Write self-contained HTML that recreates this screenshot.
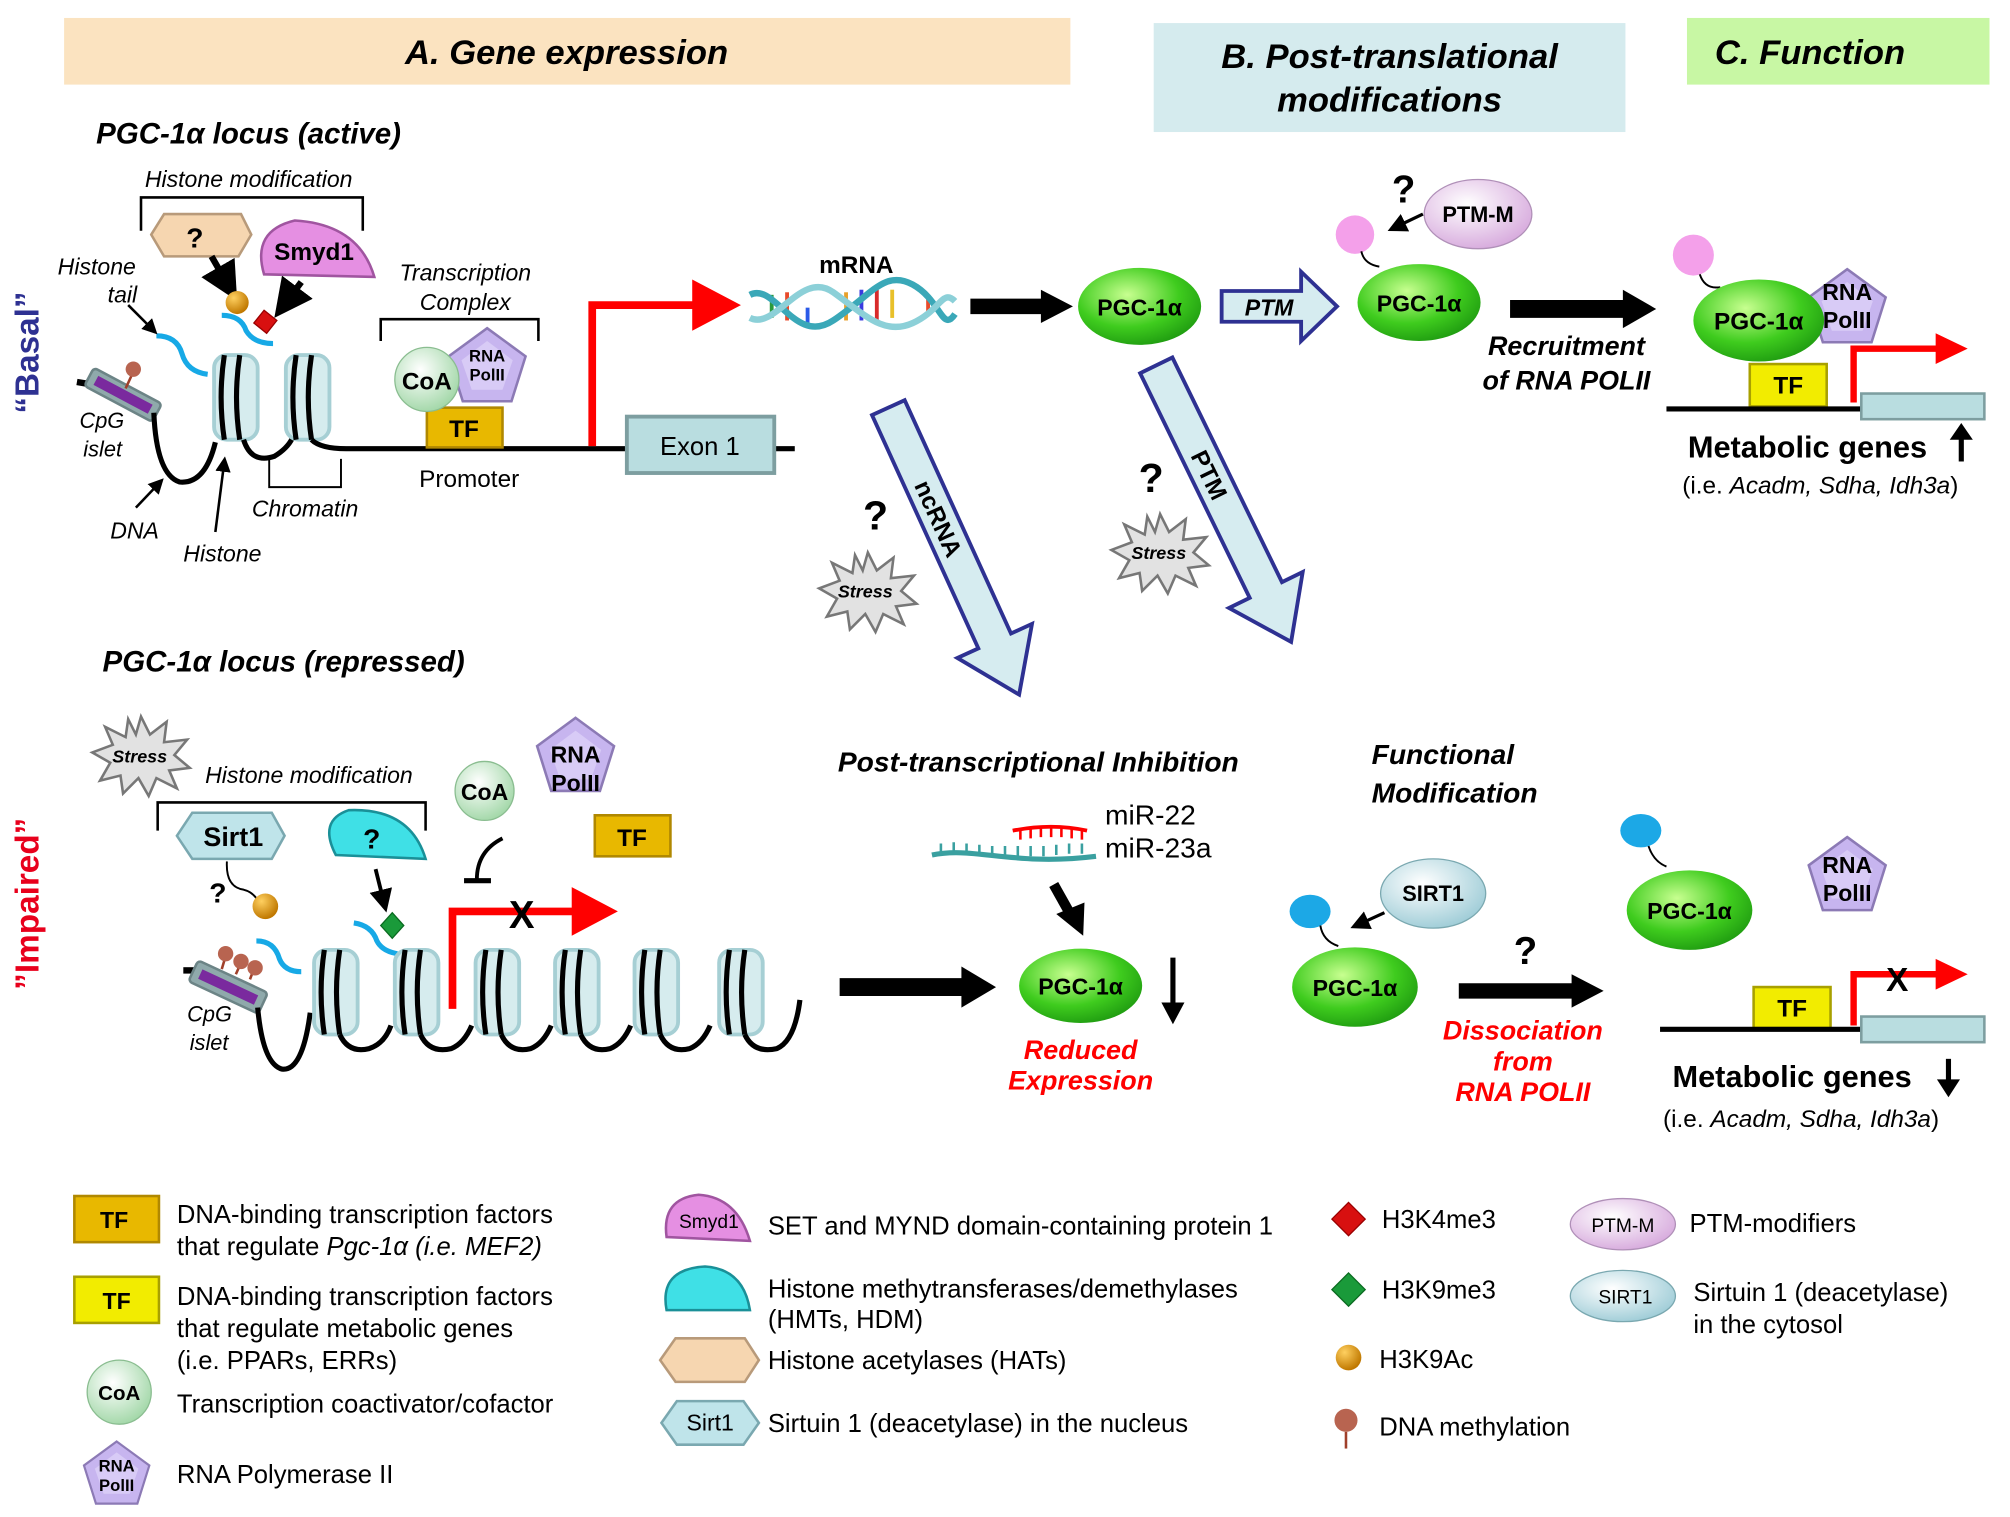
<!DOCTYPE html>
<html><head><meta charset="utf-8"><style>
html,body{margin:0;padding:0;background:#fff}
svg{display:block}
text{font-family:"Liberation Sans",Arial,sans-serif}
.bi{font-weight:bold;font-style:italic}
.b{font-weight:bold}
.i{font-style:italic}
</style></head><body>
<svg width="2010" height="1517" viewBox="0 0 1568 1183.4" preserveAspectRatio="none" xmlns="http://www.w3.org/2000/svg">
<defs>
<radialGradient id="gG" cx="40%" cy="35%" r="70%"><stop offset="0" stop-color="#c8ff90"/><stop offset="0.6" stop-color="#3fcc1e"/><stop offset="1" stop-color="#1e9a10"/></radialGradient>
<radialGradient id="gCoA" cx="40%" cy="35%" r="70%"><stop offset="0" stop-color="#ffffff"/><stop offset="1" stop-color="#9fd6a5"/></radialGradient>
<radialGradient id="gPk" cx="40%" cy="35%" r="70%"><stop offset="0" stop-color="#fff"/><stop offset="1" stop-color="#d6a8dc"/></radialGradient>
<radialGradient id="gSi" cx="40%" cy="35%" r="70%"><stop offset="0" stop-color="#fff"/><stop offset="1" stop-color="#9ccbd6"/></radialGradient>
<radialGradient id="gOr" cx="35%" cy="30%" r="70%"><stop offset="0" stop-color="#ffd060"/><stop offset="1" stop-color="#c07800"/></radialGradient>
<g id="pent"><polygon points="0,-30 30,-8 19,27 -19,27 -30,-8" fill="#c7b5ef" stroke="#8c7ab5" stroke-width="2"/><polygon points="0,-20 20,-5 12,18 -12,18 -20,-5" fill="#d8cbf6"/></g>
<g id="nuc"><rect x="-17" y="-33" width="34" height="66" rx="10" fill="#d6ecee" stroke="#a6cfd4" stroke-width="3"/><path d="M-9,-33 Q-14,0 -9,33 M3,-33 Q-2,0 3,33" stroke="#000" stroke-width="4" fill="none"/></g>
<g id="stress"><polygon points="0,-30 7,-16 20,-26 18,-10 36,-12 26,0 38,10 22,12 28,26 12,18 6,32 -2,18 -14,30 -16,16 -32,20 -24,6 -38,-2 -22,-8 -28,-22 -12,-14 -10,-28 -4,-16" fill="#e2e2e2" stroke="#777" stroke-width="2"/></g>
<marker id="ah" markerWidth="6" markerHeight="6" refX="4" refY="3" orient="auto"><path d="M0,0 L6,3 L0,6z" fill="#000"/></marker>
</defs>

<!-- headers -->
<rect x="50" y="14" width="785" height="52" fill="#fbe3c0"/>
<text x="442" y="50" font-size="27" class="bi" text-anchor="middle">A. Gene expression</text>
<rect x="900" y="18" width="368" height="85" fill="#d5ebee"/>
<text x="1084" y="53" font-size="27" class="bi" text-anchor="middle">B. Post-translational</text>
<text x="1084" y="87" font-size="27" class="bi" text-anchor="middle">modifications</text>
<rect x="1316" y="14" width="236" height="52" fill="#c8f7a4"/>
<text x="1412" y="50" font-size="27" class="bi" text-anchor="middle">C. Function</text>

<text transform="translate(30,275) rotate(-90)" font-size="26" class="b" fill="#2e3192" text-anchor="middle">“Basal”</text>
<text transform="translate(30,705) rotate(-90)" font-size="26" class="b" fill="#e8001c" text-anchor="middle">”Impaired”</text>

<!-- TOP locus -->
<text x="75" y="112" font-size="23" class="bi">PGC-1α locus (active)</text>
<text x="113" y="146" font-size="18" class="i">Histone modification</text>
<path d="M110,180 V154 H283 V180" stroke="#000" stroke-width="2" fill="none"/>
<polygon points="118,183 128,167 188,167 196,183 186,200 128,200" fill="#f6d6b0" stroke="#b89a7a" stroke-width="2"/>
<text x="152" y="193" font-size="22" class="b" text-anchor="middle">?</text>
<path d="M206,214 Q196,180 230,172 Q280,175 292,216 Z" fill="#e58fe2" stroke="#a055a0" stroke-width="2"/>
<text x="245" y="203" font-size="19" class="b" text-anchor="middle">Smyd1</text>
<path d="M165,200 L180,226" stroke="#000" stroke-width="5" marker-end="url(#ah)"/>
<path d="M235,220 L220,240" stroke="#000" stroke-width="5" marker-end="url(#ah)"/>
<circle cx="185" cy="236" r="9" fill="url(#gOr)"/>
<polygon points="206,242 216,250 208,260 198,252" fill="#d81010" stroke="#900" stroke-width="1"/>
<path d="M173,246 Q188,246 192,258 Q198,268 213,268" stroke="#17a9e6" stroke-width="4" fill="none"/>
<path d="M122,262 Q138,262 142,276 Q146,290 162,292" stroke="#17a9e6" stroke-width="4" fill="none"/>
<text x="45" y="214" font-size="18" class="i">Histone</text>
<text x="84" y="236" font-size="18" class="i">tail</text>
<path d="M100,238 L120,258" stroke="#000" stroke-width="2" marker-end="url(#ah)"/>
<!-- CpG -->
<path d="M60,298 L72,300" stroke="#000" stroke-width="5"/>
<g transform="translate(96,308) rotate(28)"><rect x="-30" y="-8" width="60" height="16" rx="3" fill="#8fa9ab" stroke="#6c8486" stroke-width="2"/><rect x="-24" y="-4" width="48" height="8" fill="#7a2a9e"/></g>
<path d="M98,303 L104,290" stroke="#a0402a" stroke-width="2"/><circle cx="104" cy="288" r="6" fill="#b86450"/>
<text x="62" y="334" font-size="17" class="i">CpG</text>
<text x="65" y="356" font-size="17" class="i">islet</text>
<path d="M120,322 Q122,370 140,376 Q160,378 168,345" stroke="#000" stroke-width="4" fill="none"/>
<use href="#nuc" x="184" y="310"/>
<path d="M190,343 Q196,362 214,356 Q224,350 228,342" stroke="#000" stroke-width="4" fill="none"/>
<use href="#nuc" x="240" y="310"/>
<path d="M243,343 Q250,350 270,350 H620" stroke="#000" stroke-width="4" fill="none"/>
<path d="M210,358 V380 H266 V358" stroke="#000" stroke-width="1.5" fill="none"/>
<text x="238" y="403" font-size="18" class="i" text-anchor="middle">Chromatin</text>
<text x="86" y="420" font-size="18" class="i">DNA</text>
<path d="M106,396 L125,376" stroke="#000" stroke-width="2" marker-end="url(#ah)"/>
<text x="143" y="438" font-size="18" class="i">Histone</text>
<path d="M168,415 L175,360" stroke="#000" stroke-width="2" marker-end="url(#ah)"/>
<text x="363" y="219" font-size="18" class="i" text-anchor="middle">Transcription</text>
<text x="363" y="242" font-size="18" class="i" text-anchor="middle">Complex</text>
<path d="M297,266 V249 H420 V266" stroke="#000" stroke-width="2" fill="none"/>
<rect x="333" y="318" width="59" height="31" fill="#e8b800" stroke="#b08800" stroke-width="2"/>
<text x="362" y="341" font-size="19" class="b" text-anchor="middle">TF</text>
<use href="#pent" x="380" y="286"/>
<text x="380" y="282" font-size="13" class="b" text-anchor="middle">RNA</text>
<text x="380" y="297" font-size="13" class="b" text-anchor="middle">PolII</text>
<circle cx="333" cy="296" r="25" fill="url(#gCoA)" stroke="#8abd90" stroke-width="1"/>
<text x="333" y="304" font-size="19" class="b" text-anchor="middle">CoA</text>
<text x="366" y="380" font-size="19" text-anchor="middle">Promoter</text>
<rect x="489" y="325" width="115" height="44" fill="#b9dde0" stroke="#7d9ea0" stroke-width="3"/>
<text x="546" y="355" font-size="20" text-anchor="middle">Exon 1</text>
<path d="M462,348 V238 H545" stroke="#f00" stroke-width="6" fill="none"/>
<polygon points="540,218 578,238 540,258" fill="#f00"/>

<!-- mRNA -->
<text x="668" y="213" font-size="19" class="b" text-anchor="middle">mRNA</text>
<g stroke-width="3">
<line x1="602" y1="230" x2="602" y2="248" stroke="#2a9a3a"/><line x1="614" y1="228" x2="614" y2="250" stroke="#e84a2a"/><line x1="630" y1="240" x2="630" y2="254" stroke="#2a5ae8"/>
<line x1="660" y1="228" x2="660" y2="250" stroke="#e8a02a"/><line x1="672" y1="226" x2="672" y2="250" stroke="#3a3ae0"/><line x1="684" y1="226" x2="684" y2="250" stroke="#d82a2a"/><line x1="696" y1="226" x2="696" y2="248" stroke="#e8c02a"/><line x1="724" y1="232" x2="724" y2="246" stroke="#e84a2a"/>
</g>
<path d="M585,230 C605,220 620,270 650,250 S690,210 712,222 S735,260 745,245" stroke="#3aa8b8" stroke-width="5" fill="none"/>
<path d="M585,248 C605,258 625,210 650,228 S690,262 712,252 S735,225 745,235" stroke="#8cd0d8" stroke-width="5" fill="none"/>

<!-- arrows top row -->
<path d="M757,239 H815" stroke="#000" stroke-width="12"/><polygon points="812,226 837,239 812,252" fill="#000"/>
<ellipse cx="889" cy="239" rx="48" ry="30" fill="url(#gG)"/>
<text x="889" y="246" font-size="18" class="b" text-anchor="middle">PGC-1α</text>
<polygon points="953,227 1015,227 1015,212 1043,239 1015,266 1015,251 953,251" fill="#d6ecf0" stroke="#2e3192" stroke-width="3"/>
<text x="990" y="246" font-size="18" class="bi" text-anchor="middle">PTM</text>
<ellipse cx="1107" cy="236" rx="48" ry="30" fill="url(#gG)"/>
<text x="1107" y="243" font-size="18" class="b" text-anchor="middle">PGC-1α</text>
<circle cx="1057" cy="183" r="15" fill="#f4a0ea"/>
<path d="M1062,196 Q1064,206 1076,208" stroke="#000" stroke-width="1.5" fill="none"/>
<ellipse cx="1153" cy="167" rx="42" ry="27" fill="url(#gPk)" stroke="#b090b8"/>
<text x="1153" y="173" font-size="17" class="b" text-anchor="middle">PTM-M</text>
<text x="1095" y="158" font-size="30" class="b" text-anchor="middle">?</text>
<path d="M1110,167 L1087,178" stroke="#000" stroke-width="2.5" marker-end="url(#ah)"/>
<path d="M1178,241 H1270" stroke="#000" stroke-width="14"/><polygon points="1266,226 1292,241 1266,256" fill="#000"/>
<text x="1222" y="277" font-size="21" class="bi" text-anchor="middle">Recruitment</text>
<text x="1222" y="304" font-size="21" class="bi" text-anchor="middle">of RNA POLII</text>

<!-- function top -->
<circle cx="1321" cy="199" r="16" fill="#f4a0ea"/>
<path d="M1326,214 Q1330,226 1342,224" stroke="#000" stroke-width="1.5" fill="none"/>
<use href="#pent" x="1441" y="240"/>
<text x="1441" y="234" font-size="18" class="b" text-anchor="middle">RNA</text>
<text x="1441" y="256" font-size="18" class="b" text-anchor="middle">PolII</text>
<ellipse cx="1372" cy="250" rx="51" ry="32" fill="url(#gG)"/>
<text x="1372" y="257" font-size="19" class="b" text-anchor="middle">PGC-1α</text>
<rect x="1365" y="284" width="60" height="33" fill="#f2ec00" stroke="#a8a000" stroke-width="2"/>
<text x="1395" y="307" font-size="19" class="b" text-anchor="middle">TF</text>
<path d="M1300,319 H1455" stroke="#000" stroke-width="4"/>
<rect x="1452" y="307" width="96" height="20" fill="#b9dde0" stroke="#7d9ea0" stroke-width="2"/>
<path d="M1446,314 V272 H1515" stroke="#f00" stroke-width="5" fill="none"/>
<polygon points="1510,260 1535,272 1510,284" fill="#f00"/>
<text x="1410" y="357" font-size="24" class="b" text-anchor="middle">Metabolic genes</text>
<path d="M1530,360 V340" stroke="#000" stroke-width="4"/><polygon points="1521,343 1530,330 1539,343" fill="#000"/>
<text x="1420" y="385" font-size="19" text-anchor="middle">(i.e. <tspan class="i">Acadm, Sdha, Idh3a</tspan>)</text>

<!-- diagonal arrows -->
<g transform="translate(693,318) rotate(65.5)">
<polygon points="0,-14 200,-14 200,-32 246,0 200,32 200,14 0,14" fill="#d6ecf0" stroke="#2e3192" stroke-width="3"/>
<text x="95" y="7" font-size="19" class="b" text-anchor="middle">ncRNA</text>
</g>
<g transform="translate(902,285) rotate(64)">
<polygon points="0,-14 195,-14 195,-32 240,0 195,32 195,14 0,14" fill="#d6ecf0" stroke="#2e3192" stroke-width="3"/>
<text x="95" y="7" font-size="19" class="b" text-anchor="middle">PTM</text>
</g>
<text x="683" y="413" font-size="32" class="b" text-anchor="middle">?</text>
<use href="#stress" x="677" y="461"/>
<text x="675" y="466" font-size="14" class="bi" text-anchor="middle">Stress</text>
<text x="898" y="384" font-size="32" class="b" text-anchor="middle">?</text>
<use href="#stress" x="905" y="431"/>
<text x="904" y="436" font-size="14" class="bi" text-anchor="middle">Stress</text>

<!-- BOTTOM locus -->
<text x="80" y="524" font-size="23" class="bi">PGC-1α locus (repressed)</text>
<use href="#stress" x="110" y="589"/>
<text x="109" y="595" font-size="14" class="bi" text-anchor="middle">Stress</text>
<text x="160" y="611" font-size="18" class="i">Histone modification</text>
<path d="M123,648 V626 H332 V648" stroke="#000" stroke-width="2" fill="none"/>
<polygon points="138,652 150,634 212,634 222,652 212,670 150,670" fill="#bfe4ea" stroke="#7aa8b0" stroke-width="2"/>
<text x="182" y="660" font-size="21" class="b" text-anchor="middle">Sirt1</text>
<path d="M262,667 Q248,640 272,632 Q320,630 332,670 Z" fill="#3fe0e6" stroke="#1a9098" stroke-width="2"/>
<text x="290" y="662" font-size="22" class="b" text-anchor="middle">?</text>
<text x="170" y="704" font-size="22" class="b" text-anchor="middle">?</text>
<path d="M177,672 Q176,692 190,694 Q198,696 202,704" stroke="#000" stroke-width="1.5" fill="none"/>
<circle cx="207" cy="707" r="10" fill="url(#gOr)"/>
<path d="M293,678 L300,706" stroke="#000" stroke-width="3" marker-end="url(#ah)"/>
<polygon points="306,712 315,722 306,732 297,722" fill="#1a9a3a" stroke="#0a6a20"/>
<path d="M276,720 Q290,722 294,734 Q298,742 310,744" stroke="#17a9e6" stroke-width="4" fill="none"/>
<path d="M200,734 Q214,734 218,748 Q222,758 235,758" stroke="#17a9e6" stroke-width="4" fill="none"/>
<circle cx="378" cy="617" r="23" fill="url(#gCoA)" stroke="#8abd90"/>
<text x="378" y="624" font-size="18" class="b" text-anchor="middle">CoA</text>
<path d="M392,654 Q372,664 372,686" stroke="#000" stroke-width="3" fill="none"/>
<path d="M362,687 H383" stroke="#000" stroke-width="4"/>
<use href="#pent" x="449" y="590"/>
<text x="449" y="595" font-size="18" class="b" text-anchor="middle">RNA</text>
<text x="449" y="617" font-size="18" class="b" text-anchor="middle">PolII</text>
<rect x="464" y="636" width="59" height="32" fill="#e8b800" stroke="#b08800" stroke-width="2"/>
<text x="493" y="660" font-size="19" class="b" text-anchor="middle">TF</text>
<!-- CpG bottom -->
<path d="M143,757 L155,757" stroke="#000" stroke-width="5"/>
<g transform="translate(178,770) rotate(25)"><rect x="-30" y="-9" width="60" height="18" rx="3" fill="#8fa9ab" stroke="#6c8486" stroke-width="2"/><rect x="-24" y="-4" width="48" height="8" fill="#7a2a9e"/></g>
<path d="M173,756 L176,746 M184,760 L188,751 M195,764 L198,756" stroke="#a0402a" stroke-width="2"/>
<circle cx="176" cy="744" r="6" fill="#b86450"/><circle cx="188" cy="750" r="6" fill="#b86450"/><circle cx="199" cy="755" r="6" fill="#b86450"/>
<text x="146" y="797" font-size="17" class="i">CpG</text>
<text x="148" y="819" font-size="17" class="i">islet</text>
<path d="M201,786 Q205,830 220,834 Q236,836 242,790" stroke="#000" stroke-width="4" fill="none"/>
<use href="#nuc" x="262" y="774"/>
<path d="M265,807 Q272,822 288,818 Q300,814 305,800" stroke="#000" stroke-width="4" fill="none"/>
<use href="#nuc" x="325" y="774"/>
<path d="M328,807 Q335,822 352,818 Q362,814 368,800" stroke="#000" stroke-width="4" fill="none"/>
<use href="#nuc" x="388" y="774"/>
<path d="M391,807 Q398,822 414,818 Q424,814 430,800" stroke="#000" stroke-width="4" fill="none"/>
<use href="#nuc" x="450" y="774"/>
<path d="M453,807 Q460,822 476,818 Q486,814 492,800" stroke="#000" stroke-width="4" fill="none"/>
<use href="#nuc" x="512" y="774"/>
<path d="M515,807 Q522,822 538,818 Q548,814 554,800" stroke="#000" stroke-width="4" fill="none"/>
<use href="#nuc" x="578" y="774"/>
<path d="M581,807 Q588,822 606,818 Q620,812 624,780" stroke="#000" stroke-width="4" fill="none"/>
<path d="M353,787 V711 H450" stroke="#f00" stroke-width="6" fill="none"/>
<polygon points="446,692 482,711 446,730" fill="#f00"/>
<text x="407" y="724" font-size="30" class="b" text-anchor="middle">X</text>

<path d="M655,770 H752" stroke="#000" stroke-width="14"/><polygon points="750,754 777,770 750,786" fill="#000"/>
<text x="810" y="602" font-size="22" class="bi" text-anchor="middle">Post-transcriptional Inhibition</text>
<path d="M727,667 C760,660 790,676 855,668" stroke="#3aa0a0" stroke-width="4" fill="none"/>
<path d="M734,666 v-8 M744,665 v-8 M754,666 v-8 M764,667 v-8 M774,668 v-8 M784,668 v-8 M794,668 v-8 M804,668 v-8 M814,668 v-8 M824,667 v-8 M834,666 v-8 M844,666 v-8" stroke="#3aa0a0" stroke-width="2"/>
<path d="M790,648 C810,644 830,644 848,648" stroke="#f00" stroke-width="3" fill="none"/>
<path d="M796,648 v7 M804,647 v7 M812,646 v7 M820,646 v7 M828,646 v7 M836,647 v7 M844,648 v7" stroke="#f00" stroke-width="2"/>
<text x="862" y="643" font-size="22">miR-22</text>
<text x="862" y="669" font-size="22">miR-23a</text>
<path d="M822,690 L836,715" stroke="#000" stroke-width="8"/><polygon points="824,713 845,730 846,704" fill="#000"/>
<ellipse cx="843" cy="769" rx="48" ry="29" fill="url(#gG)"/>
<text x="843" y="776" font-size="18" class="b" text-anchor="middle">PGC-1α</text>
<path d="M915,747 V785" stroke="#000" stroke-width="4"/><polygon points="906,782 915,799 924,782" fill="#000"/>
<text x="843" y="826" font-size="21" class="bi" fill="#f00" text-anchor="middle">Reduced</text>
<text x="843" y="850" font-size="21" class="bi" fill="#f00" text-anchor="middle">Expression</text>

<text x="1070" y="596" font-size="22" class="bi">Functional</text>
<text x="1070" y="626" font-size="22" class="bi">Modification</text>
<ellipse cx="1118" cy="697" rx="41" ry="27" fill="url(#gSi)" stroke="#7aa8b0"/>
<text x="1118" y="703" font-size="17" class="b" text-anchor="middle">SIRT1</text>
<path d="M1080,712 L1058,722" stroke="#000" stroke-width="2.5" marker-end="url(#ah)"/>
<ellipse cx="1022" cy="711" rx="16" ry="13" fill="#1ca8e6"/>
<path d="M1030,722 Q1032,734 1044,738" stroke="#000" stroke-width="1.5" fill="none"/>
<ellipse cx="1057" cy="770" rx="49" ry="31" fill="url(#gG)"/>
<text x="1057" y="777" font-size="18" class="b" text-anchor="middle">PGC-1α</text>
<text x="1190" y="752" font-size="30" class="b" text-anchor="middle">?</text>
<path d="M1138,773 H1230" stroke="#000" stroke-width="12"/><polygon points="1226,760 1251,773 1226,786" fill="#000"/>
<text x="1188" y="811" font-size="21" class="bi" fill="#f00" text-anchor="middle">Dissociation</text>
<text x="1188" y="835" font-size="21" class="bi" fill="#f00" text-anchor="middle">from</text>
<text x="1188" y="859" font-size="21" class="bi" fill="#f00" text-anchor="middle">RNA POLII</text>

<ellipse cx="1280" cy="648" rx="16" ry="13" fill="#1ca8e6"/>
<path d="M1286,660 Q1290,672 1300,676" stroke="#000" stroke-width="1.5" fill="none"/>
<ellipse cx="1318" cy="710" rx="49" ry="31" fill="url(#gG)"/>
<text x="1318" y="717" font-size="18" class="b" text-anchor="middle">PGC-1α</text>
<use href="#pent" x="1441" y="683"/>
<text x="1441" y="681" font-size="18" class="b" text-anchor="middle">RNA</text>
<text x="1441" y="703" font-size="18" class="b" text-anchor="middle">PolII</text>
<rect x="1368" y="770" width="60" height="32" fill="#f2ec00" stroke="#a8a000" stroke-width="2"/>
<text x="1398" y="793" font-size="19" class="b" text-anchor="middle">TF</text>
<path d="M1295,803 H1455" stroke="#000" stroke-width="4"/>
<rect x="1452" y="793" width="96" height="20" fill="#b9dde0" stroke="#7d9ea0" stroke-width="2"/>
<path d="M1446,800 V760 H1515" stroke="#f00" stroke-width="5" fill="none"/>
<polygon points="1510,748 1535,760 1510,772" fill="#f00"/>
<text x="1480" y="773" font-size="26" class="b" text-anchor="middle">X</text>
<text x="1398" y="848" font-size="24" class="b" text-anchor="middle">Metabolic genes</text>
<path d="M1520,826 V845" stroke="#000" stroke-width="4"/><polygon points="1511,842 1520,856 1529,842" fill="#000"/>
<text x="1405" y="879" font-size="19" text-anchor="middle">(i.e. <tspan class="i">Acadm, Sdha, Idh3a</tspan>)</text>

<!-- LEGEND -->
<rect x="58" y="933" width="66" height="36" fill="#e8b800" stroke="#b08800" stroke-width="2"/>
<text x="89" y="958" font-size="18" class="b" text-anchor="middle">TF</text>
<text x="138" y="954" font-size="20">DNA-binding transcription factors</text>
<text x="138" y="979" font-size="20">that regulate <tspan class="i">Pgc-1α (i.e. MEF2)</tspan></text>
<rect x="58" y="996" width="66" height="36" fill="#f2ec00" stroke="#a8a000" stroke-width="2"/>
<text x="91" y="1021" font-size="18" class="b" text-anchor="middle">TF</text>
<text x="138" y="1018" font-size="20">DNA-binding transcription factors</text>
<text x="138" y="1043" font-size="20">that regulate metabolic genes</text>
<text x="138" y="1068" font-size="20">(i.e. PPARs, ERRs)</text>
<circle cx="93" cy="1086" r="25" fill="url(#gCoA)" stroke="#8abd90"/>
<text x="93" y="1092" font-size="16" class="b" text-anchor="middle">CoA</text>
<text x="138" y="1102" font-size="20">Transcription coactivator/cofactor</text>
<g transform="translate(91,1150) scale(0.85)"><use href="#pent"/></g>
<text x="91" y="1148" font-size="13" class="b" text-anchor="middle">RNA</text>
<text x="91" y="1163" font-size="13" class="b" text-anchor="middle">PolII</text>
<text x="138" y="1157" font-size="20">RNA Polymerase II</text>

<path d="M520,965 Q516,935 545,932 Q575,934 585,968 Z" fill="#e58fe2" stroke="#a055a0" stroke-width="2"/>
<text x="553" y="958" font-size="15" text-anchor="middle">Smyd1</text>
<text x="599" y="963" font-size="20">SET and MYND domain-containing protein 1</text>
<path d="M520,1022 Q514,990 550,988 Q580,990 585,1022 Z" fill="#3fe0e6" stroke="#1a9098" stroke-width="2"/>
<text x="599" y="1012" font-size="20">Histone methytransferases/demethylases</text>
<text x="599" y="1036" font-size="20">(HMTs, HDM)</text>
<polygon points="515,1061 527,1044 581,1044 592,1061 581,1078 527,1078" fill="#f6d6b0" stroke="#b89a7a" stroke-width="2"/>
<text x="599" y="1068" font-size="20">Histone acetylases (HATs)</text>
<polygon points="516,1110 528,1093 580,1093 592,1110 580,1127 528,1127" fill="#bfe4ea" stroke="#7aa8b0" stroke-width="2"/>
<text x="554" y="1116" font-size="18" text-anchor="middle">Sirt1</text>
<text x="599" y="1117" font-size="20">Sirtuin 1 (deacetylase) in the nucleus</text>

<polygon points="1052,938 1065,951 1052,964 1039,951" fill="#d81010" stroke="#900"/>
<text x="1078" y="958" font-size="20">H3K4me3</text>
<polygon points="1052,993 1065,1006 1052,1019 1039,1006" fill="#1a9a3a" stroke="#0a6a20"/>
<text x="1078" y="1013" font-size="20">H3K9me3</text>
<circle cx="1052" cy="1059" r="10" fill="url(#gOr)"/>
<text x="1076" y="1067" font-size="20">H3K9Ac</text>
<circle cx="1050" cy="1108" r="9" fill="#b86450"/><path d="M1050,1117 V1130" stroke="#a0402a" stroke-width="2"/>
<text x="1076" y="1120" font-size="20">DNA methylation</text>

<ellipse cx="1266" cy="955" rx="41" ry="20" fill="url(#gPk)" stroke="#b090b8"/>
<text x="1266" y="961" font-size="15" text-anchor="middle">PTM-M</text>
<text x="1318" y="961" font-size="20">PTM-modifiers</text>
<ellipse cx="1266" cy="1011" rx="41" ry="20" fill="url(#gSi)" stroke="#7aa8b0"/>
<text x="1268" y="1017" font-size="15" text-anchor="middle">SIRT1</text>
<text x="1321" y="1015" font-size="20">Sirtuin 1 (deacetylase)</text>
<text x="1321" y="1040" font-size="20">in the cytosol</text>
</svg>
</body></html>
